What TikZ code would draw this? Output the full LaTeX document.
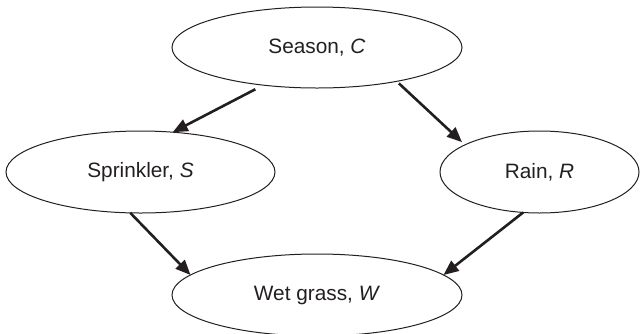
\documentclass[tikz,border=0pt]{standalone}
\usepackage{fontspec}
\setmainfont{Liberation Sans}
\usetikzlibrary{arrows.meta,shapes.geometric}
\definecolor{ink}{HTML}{231F20}
\begin{document}
\begin{tikzpicture}[x=1pt,y=-1pt,
  var/.style={ellipse, draw=ink, line width=1pt, inner sep=0pt, outer sep=0pt,
              text=ink, font=\fontsize{20.8}{24}\selectfont},
  edge/.style={draw=ink, line width=2.6pt, -{Triangle[length=15pt,width=12.5pt]}}]
\useasboundingbox (0,0) rectangle (640,333);

% variables of the network
\node[var, minimum width=290pt, minimum height=81pt] (season)    at (317,47.5)  {Season, \textit{C}};
\node[var, minimum width=269pt, minimum height=82pt] (sprinkler) at (140.5,172) {Sprinkler, \textit{S}};
\node[var, minimum width=199pt, minimum height=82pt] (rain)      at (539.5,172) {Rain, \textit{R}};
\node[var, minimum width=290pt, minimum height=82pt] (wet)       at (317,295)   {Wet grass, \textit{W}};

% causal links
\draw[edge, shorten <=9pt] (season.-145) -- (sprinkler.51);
\draw[edge, shorten <=3pt, shorten >=4pt] (season.-23) -- (rain.160);
\draw[edge] (sprinkler.-104) -- (wet.171);
\draw[edge] (rain.-112) -- (wet.9);
\end{tikzpicture}
\end{document}
